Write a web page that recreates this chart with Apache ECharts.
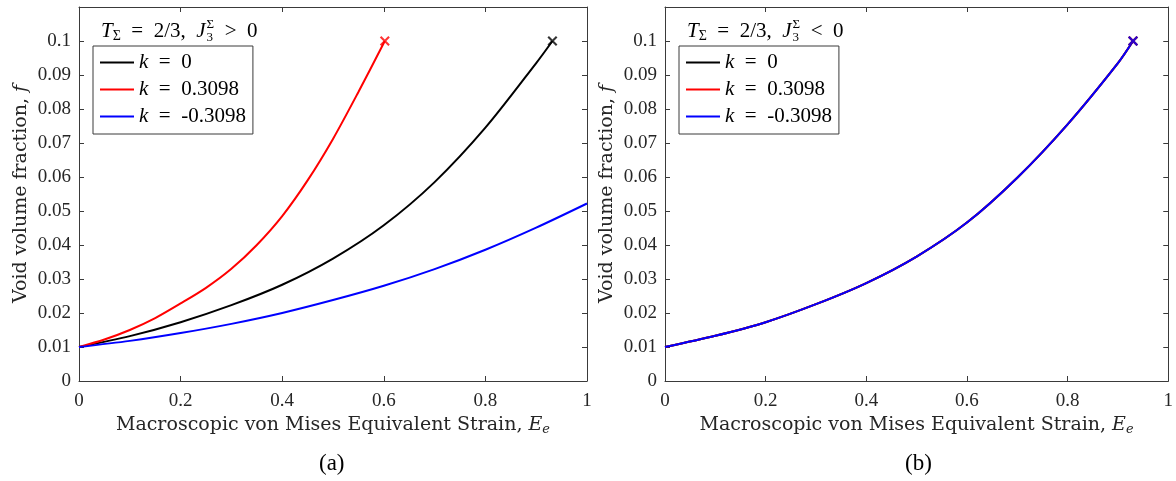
<!DOCTYPE html>
<html>
<head>
<meta charset="utf-8">
<script src="https://cdn.jsdelivr.net/npm/echarts@6/dist/echarts.min.js"></script>
<style>
html,body{margin:0;padding:0;background:#fff;}
#c{width:1176px;height:481px;}
</style>
</head>
<body>
<div id="c"></div>
<script>
// ---- data ----
const seriesNames = ['k = 0', 'k = 0.3098', 'k = -0.3098'];
const xTicks = [0, 0.2, 0.4, 0.6, 0.8, 1];
const yTicks = [0, 0.01, 0.02, 0.03, 0.04, 0.05, 0.06, 0.07, 0.08, 0.09, 0.1];

// panel (a): J3 > 0
const aK0 = [[0,0.0100],[0.1,0.0132],[0.2,0.0173],[0.3,0.0223],[0.4,0.0283],[0.5,0.0360],[0.6,0.0458],[0.7,0.0585],[0.8,0.0745],[0.9,0.0935],[0.932,0.1000]];
const aKpos = [[0,0.0100],[0.05,0.0122],[0.1,0.0150],[0.15,0.0185],[0.2,0.0228],[0.25,0.0274],[0.3,0.0330],[0.35,0.0400],[0.4,0.0485],[0.45,0.0590],[0.5,0.0712],[0.55,0.0850],[0.602,0.1000]];
const aKneg = [[0,0.0100],[0.1,0.0118],[0.2,0.0141],[0.3,0.0168],[0.4,0.0200],[0.5,0.0238],[0.6,0.0280],[0.7,0.0329],[0.8,0.0386],[0.9,0.0451],[1.0,0.0522]];
// which curves of panel (a) end in an "x" marker (the blue one runs off the axes)
const aEndMarks = [true, true, false];

// panel (b): J3 < 0 (the three curves coincide)
const bK0 = [[0,0.0100],[0.1,0.0133],[0.2,0.0173],[0.3,0.0226],[0.4,0.0288],[0.5,0.0366],[0.6,0.0466],[0.7,0.0598],[0.8,0.0755],[0.9,0.0935],[0.93,0.1000]];
const bKpos = [[0,0.0100],[0.1,0.0133],[0.2,0.0173],[0.3,0.0226],[0.4,0.0288],[0.5,0.0366],[0.6,0.0466],[0.7,0.0598],[0.8,0.0755],[0.9,0.0935],[0.93,0.1000]];
const bKneg = [[0,0.0100],[0.1,0.0133],[0.2,0.0173],[0.3,0.0226],[0.4,0.0288],[0.5,0.0366],[0.6,0.0466],[0.7,0.0598],[0.8,0.0755],[0.9,0.0935],[0.93,0.1000]];
const bEndMarks = [true, true, true];

const panelLabels = ['(a)', '(b)'];
const signs = ['>', '<'];

// ---- styles ----
const SERIF = '"Liberation Serif", "DejaVu Serif", serif';
const WSERIF = '"DejaVu Serif", "Liberation Serif", serif';
const AX = '#3a3a3a';
const TXT = '#262626';
const COLORS = ['#000000', '#ff0000', '#0000ff'];
const CROSS = 'path://M0,1.5L1.5,0L5,3.5L8.5,0L10,1.5L6.5,5L10,8.5L8.5,10L5,6.5L1.5,10L0,8.5L3.5,5Z';
const SP = '\u2002';

const grids = [
  {left: 79, top: 7, width: 508, height: 374},
  {left: 665, top: 7, width: 508, height: 374}
];

function fmt(v) { return String(+v.toFixed(2)); }

const xAxes = [], yAxes = [];
grids.forEach((g, gi) => {
  const base = {
    gridIndex: gi, type: 'value', min: 0, max: 1, interval: 0.2,
    axisLine: {show: true, onZero: false, lineStyle: {color: AX, width: 1}},
    axisTick: {show: true, inside: true, length: 5, lineStyle: {color: AX}},
    splitLine: {show: false}
  };
  xAxes.push(Object.assign({}, base, {
    position: 'bottom',
    axisLabel: {show: true, margin: 11, fontFamily: SERIF, fontSize: 19, color: TXT,
      formatter: v => xTicks.some(t => Math.abs(t - v) < 1e-9) ? fmt(v) : ''},
    name: 'Macroscopic von Mises Equivalent Strain, {i|E}{sub|e}',
    nameLocation: 'middle', nameGap: 33,
    nameTextStyle: {fontFamily: WSERIF, fontSize: 19, color: TXT,
      rich: {i: {fontFamily: WSERIF, fontStyle: 'italic', fontSize: 19, color: TXT},
             sub: {fontFamily: WSERIF, fontStyle: 'italic', fontSize: 13, color: TXT, padding: [9, 0, 0, 0]}}}
  }));
  xAxes.push(Object.assign({}, base, {position: 'top', axisLabel: {show: false}}));
  const ybase = Object.assign({}, base, {min: 0, max: 0.11, interval: 0.01});
  yAxes.push(Object.assign({}, ybase, {
    position: 'left',
    axisLabel: {show: true, margin: 8, fontFamily: SERIF, fontSize: 19, color: TXT,
      formatter: v => yTicks.some(t => Math.abs(t - v) < 1e-9) ? fmt(v) : ''},
    name: 'Void volume fraction, {i|f}',
    nameLocation: 'middle', nameGap: 48,
    nameTextStyle: {fontFamily: WSERIF, fontSize: 19, color: TXT,
      rich: {i: {fontFamily: WSERIF, fontStyle: 'italic', fontSize: 19, color: TXT}}}
  }));
  yAxes.push(Object.assign({}, ybase, {position: 'right', axisLabel: {show: false}}));
});

const panelData = [[aK0, aKpos, aKneg], [bK0, bKpos, bKneg]];
const panelMarks = [aEndMarks, bEndMarks];
const series = [];
panelData.forEach((arrs, gi) => {
  arrs.forEach((d, si) => {
    series.push({
      name: seriesNames[si], type: 'line', xAxisIndex: gi * 2, yAxisIndex: gi * 2,
      data: d, symbol: 'none', showSymbol: false, smooth: 0.3, silent: true,
      lineStyle: {color: COLORS[si], width: 2}, itemStyle: {color: COLORS[si]},
      z: 3 + si
    });
  });
  arrs.forEach((d, si) => {
    if (!panelMarks[gi][si]) return;
    series.push({
      name: 'end-' + gi + '-' + si, type: 'scatter', xAxisIndex: gi * 2, yAxisIndex: gi * 2,
      data: [d[d.length - 1]], symbol: CROSS, symbolSize: 10, silent: true,
      itemStyle: {color: COLORS[si]}, z: 6 + si
    });
  });
});

const legendBase = {
  data: seriesNames, orient: 'vertical', top: 46,
  backgroundColor: '#fff', borderColor: AX, borderWidth: 1, borderRadius: 0,
  padding: [6, 7, 7, 7], itemGap: 6, itemWidth: 34, itemHeight: 2, icon: 'rect',
  selectedMode: false,
  formatter: n => '{i|k}' + SP + '=' + SP + n.slice(4),
  textStyle: {fontFamily: SERIF, fontSize: 21, color: '#000', lineHeight: 21,
    rich: {i: {fontFamily: SERIF, fontStyle: 'italic', fontSize: 21, color: '#000', lineHeight: 21}}}
};
const legends = [
  Object.assign({}, legendBase, {left: 93}),
  Object.assign({}, legendBase, {left: 679})
];

// ---- legend titles (T_Σ = 2/3, J_3^Σ > 0) built from text pieces ----
const mctx = document.createElement('canvas').getContext('2d');
function tw(t, size, italic) { mctx.font = (italic ? 'italic ' : '') + size + 'px ' + SERIF; return mctx.measureText(t).width; }
function titleGroup(x0, yc, sign) {
  const F = 21, S = 14;
  const kids = [];
  let x = 0;
  function add(t, size, italic, dy) {
    kids.push({type: 'text', x: x, y: dy + 12, style: {text: t, fontFamily: SERIF, fontSize: size,
      fontStyle: italic ? 'italic' : 'normal', fill: '#000', verticalAlign: 'middle', align: 'left'}});
    return tw(t, size, italic);
  }
  x += add('T', F, true, 0);
  x += add('Σ', S, false, 5);
  x += add(SP + '=' + SP + '2/3,' + SP, F, false, 0);
  x += add('J', F, true, 0) + 1;
  const w1 = add('Σ', 13, false, -7);
  const w2 = add('3', 13, false, 6);
  x += Math.max(w1, w2);
  x += add(SP + sign + SP + '0', F, false, 0);
  return {type: 'group', left: x0, top: yc - 12, children: kids};
}

const graphics = [
  titleGroup(101, 30, signs[0]),
  titleGroup(687, 30, signs[1]),
  {type: 'text', left: 319, top: 452, style: {text: panelLabels[0], fontFamily: SERIF, fontSize: 23, fill: '#000'}},
  {type: 'text', left: 905, top: 452, style: {text: panelLabels[1], fontFamily: SERIF, fontSize: 23, fill: '#000'}}
];

const chart = echarts.init(document.getElementById('c'), null, {renderer: 'canvas'});
chart.setOption({
  animation: false,
  backgroundColor: '#ffffff',
  grid: grids,
  xAxis: xAxes,
  yAxis: yAxes,
  legend: legends,
  series: series,
  graphic: graphics
});
</script>
</body>
</html>
